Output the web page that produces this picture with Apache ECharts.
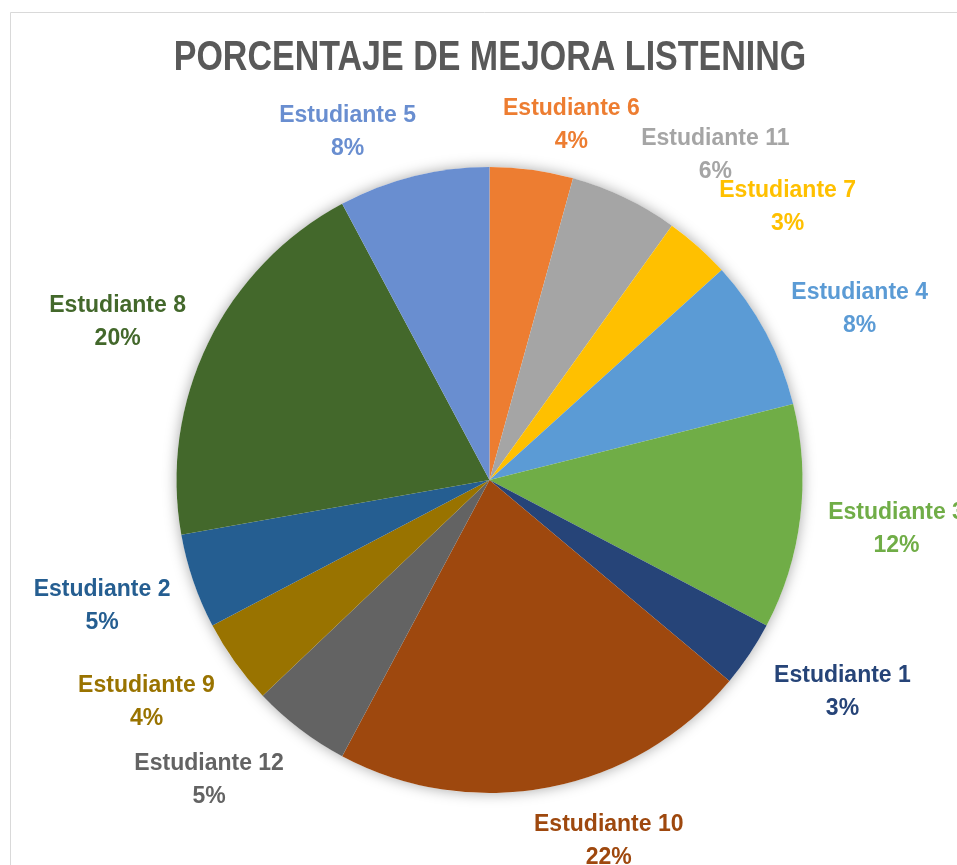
<!DOCTYPE html>
<html><head><meta charset="utf-8">
<script src="https://cdn.jsdelivr.net/npm/echarts@6/dist/echarts.min.js"></script>
<style>html,body{margin:0;padding:0;background:#fff;} #chart{width:957px;height:865px;}</style>
</head><body><div id="chart"></div>
<script>
// ---- data ----
const titleText = 'PORCENTAJE DE MEJORA LISTENING';
const categories = ['Estudiante 6','Estudiante 11','Estudiante 7','Estudiante 4','Estudiante 3','Estudiante 1','Estudiante 10','Estudiante 12','Estudiante 9','Estudiante 2','Estudiante 8','Estudiante 5'];
const values = [4.3, 5.6, 3.4, 7.8, 11.6, 3.4, 21.7, 5.1, 4.4, 4.9, 20.0, 7.8];
const colors = ['#ED7D31','#A5A5A5','#FFC000','#5B9BD5','#70AD47','#264478','#9E480E','#636363','#997300','#255E91','#43682B','#698ED0'];

// ---- layout ----
const CX = 489.5, CY = 480, R = 313, GAP = 20;

const total = values.reduce((a,b)=>a+b, 0);
function midAngle(i){
  let s = 0;
  for (let k = 0; k < i; k++) s += values[k];
  return (s + values[i]/2) / total * 2 * Math.PI;
}
function clamp(v, lo, hi){ return Math.max(lo, Math.min(hi, v)); }

const chart = echarts.init(document.getElementById('chart'), null, {renderer:'canvas'});
chart.setOption({
  backgroundColor: '#ffffff',
  animation: false,
  graphic: [
    {
      type: 'rect', silent: true, z: -10,
      shape: {x: 10.5, y: 12.5, width: 2000, height: 2000},
      style: {fill: 'none', stroke: '#D9D9D9', lineWidth: 1}
    },
    {
      type: 'text', silent: true, z: 10,
      x: 490, y: 58, scaleX: 0.81, scaleY: 1,
      style: {
        text: titleText,
        fontFamily: '"Liberation Sans", Arial, sans-serif',
        fontWeight: 'bold', fontSize: 42,
        fill: '#595959',
        align: 'center', verticalAlign: 'middle'
      }
    }
  ],
  series: [
    {
      type: 'pie', silent: true, z: 1,
      center: [CX, CY], radius: R,
      label: {show: false}, labelLine: {show: false},
      itemStyle: {color: '#ffffff', shadowBlur: 14, shadowColor: 'rgba(0,0,0,0.35)'},
      data: [{value: 1, name: ''}]
    },
    {
      type: 'pie', z: 2,
      center: [CX, CY], radius: R,
      startAngle: 90, clockwise: true,
      avoidLabelOverlap: false,
      itemStyle: {borderWidth: 0},
      label: {
        show: true, position: 'outside',
        fontFamily: '"Liberation Sans", Arial, sans-serif',
        fontWeight: 'bold', fontSize: 23, lineHeight: 33,
        formatter: p => p.name + '\n' + Math.round(p.percent) + '%'
      },
      labelLine: {show: false},
      labelLayout: function(p){
        const th = midAngle(p.dataIndex);
        const ux = Math.sin(th), uy = -Math.cos(th);
        const w = p.labelRect.width, h = p.labelRect.height;
        const px = CX + ux * (R + GAP), py = CY + uy * (R + GAP);
        const fx = clamp(3.5 * ux, -1, 1), fy = clamp(1.2 * uy, -0.9, 0.9);
        return {x: px + fx * (w/2 + 6) + 2, y: py + fy * h/2 + 5, align: 'center', verticalAlign: 'middle'};
      },
      data: categories.map((c, i) => ({
        name: c, value: values[i],
        itemStyle: {color: colors[i]},
        label: {color: colors[i]}
      }))
    }
  ]
});
</script>
</body></html>
